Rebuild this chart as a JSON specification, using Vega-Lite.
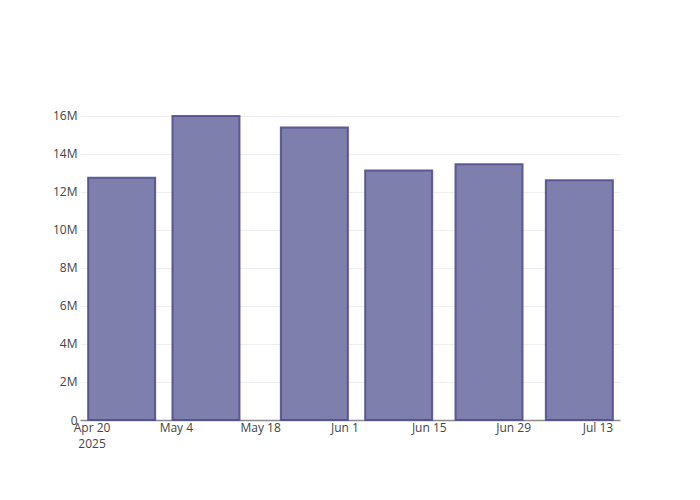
{
  "$schema": "https://vega.github.io/schema/vega-lite/v6.json",
  "autosize": {"type": "none"},
  "padding": {"left": 80, "top": 100, "right": 80, "bottom": 80},
  "width": 540,
  "height": 320,
  "background": "white",
  "config": {
    "view": {"stroke": null},
    "font": "Open Sans",
    "axis": {"labelFont": "Open Sans", "labelFontSize": 12, "labelColor": "#444", "titleColor": "#444"}
  },
  "data": {
    "values": [
      {"date": "2025-04-25", "value": 12750000},
      {"date": "2025-05-09", "value": 16000000},
      {"date": "2025-05-27", "value": 15390000},
      {"date": "2025-06-10", "value": 13130000},
      {"date": "2025-06-25", "value": 13460000},
      {"date": "2025-07-10", "value": 12620000}
    ]
  },
  "mark": {
    "type": "bar",
    "size": 67,
    "fill": "#7f7fae",
    "stroke": "#4f4f8f",
    "strokeWidth": 2,
    "strokeOpacity": 0.9
  },
  "encoding": {
    "x": {
      "field": "date",
      "type": "temporal",
      "scale": {
        "type": "utc",
        "padding": 0,
        "nice": false,
        "domain": [
          {"year": 2025, "month": 4, "date": 18, "hours": 2, "utc": true},
          {"year": 2025, "month": 7, "date": 16, "hours": 18, "utc": true}
        ]
      },
      "axis": {
        "title": null,
        "values": [
          {"year": 2025, "month": 4, "date": 20, "utc": true},
          {"year": 2025, "month": 5, "date": 4, "utc": true},
          {"year": 2025, "month": 5, "date": 18, "utc": true},
          {"year": 2025, "month": 6, "date": 1, "utc": true},
          {"year": 2025, "month": 6, "date": 15, "utc": true},
          {"year": 2025, "month": 6, "date": 29, "utc": true},
          {"year": 2025, "month": 7, "date": 13, "utc": true}
        ],
        "labelExpr": "utcFormat(datum.value, '%b %-d') == 'Apr 20' ? ['Apr 20', '2025'] : utcFormat(datum.value, '%b %-d')",
        "grid": false,
        "ticks": false,
        "labelFlush": false,
        "labelPadding": 2,
        "domainColor": "#8a8a8a",
        "domainWidth": 1.5,
        "labelLineHeight": 16
      }
    },
    "y": {
      "field": "value",
      "type": "quantitative",
      "scale": {"domain": [0, 16840000], "nice": false},
      "axis": {
        "title": null,
        "values": [0, 2000000, 4000000, 6000000, 8000000, 10000000, 12000000, 14000000, 16000000],
        "labelExpr": "datum.value == 0 ? '0' : (datum.value / 1000000) + 'M'",
        "domain": false,
        "ticks": false,
        "labelPadding": 3,
        "gridColor": "#eeeeee",
        "gridWidth": 1
      }
    }
  }
}
